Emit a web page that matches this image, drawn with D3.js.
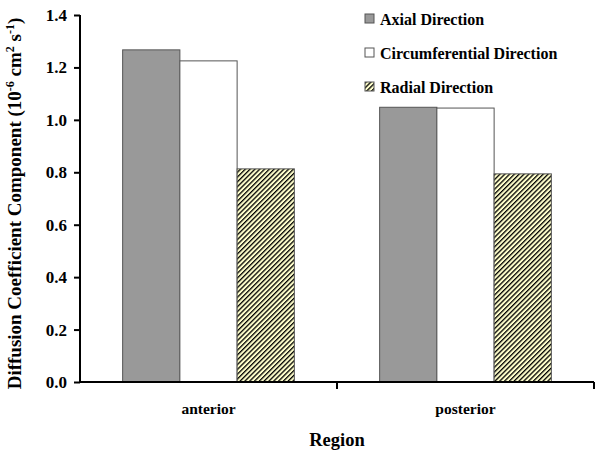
<!DOCTYPE html>
<html><head><meta charset="utf-8">
<script src="https://cdn.jsdelivr.net/npm/d3@7"></script>
<style>body{margin:0;background:#fff}svg{display:block}text{font-family:"Liberation Serif","Times New Roman",serif;font-weight:bold;fill:#000}</style>
</head><body><svg id="c" width="600" height="454"></svg>
<script>
const regions = ["anterior", "posterior"];
const series = ["Axial Direction", "Circumferential Direction", "Radial Direction"];
const axial = [1.267, 1.048];
const circumferential = [1.225, 1.045];
const radial = [0.813, 0.794];
const yTicks = [0, 0.2, 0.4, 0.6, 0.8, 1.0, 1.2, 1.4];

const values = [axial, circumferential, radial];
const fills = ["#999999", "#ffffff", "url(#hatch)"];

const svg = d3.select("#c");
const defs = svg.append("defs");
const pat = defs.append("pattern").attr("id","hatch").attr("patternUnits","userSpaceOnUse")
  .attr("width",3.4).attr("height",3.4).attr("patternTransform","rotate(45)");
pat.append("rect").attr("width",3.4).attr("height",3.4).attr("fill","#ffffcc");
pat.append("rect").attr("x",0).attr("width",1.3).attr("height",3.4).attr("fill","#000");

const L = 80, R = 594, T = 15, B = 382;
const x0 = d3.scaleBand().domain(regions).range([L, R]).paddingInner(0).paddingOuter(0);
const x1 = d3.scaleBand().domain(series).range([0, x0.bandwidth()]).paddingOuter(0.745).paddingInner(0);
const y = d3.scaleLinear().domain([0, 1.4]).range([B, T]);

// bars
regions.forEach((r, i) => {
  series.forEach((s, j) => {
    svg.append("rect")
      .attr("x", x0(r) + x1(s)).attr("y", y(values[j][i]))
      .attr("width", x1.bandwidth()).attr("height", B - y(values[j][i]))
      .attr("fill", fills[j]).attr("stroke", "#555").attr("stroke-width", 1);
  });
});

// y axis
const yAxis = svg.append("g").attr("transform", `translate(${L},0)`)
  .call(d3.axisLeft(y).tickValues(yTicks).tickFormat(d3.format(".1f")).tickSize(6).tickPadding(7));
yAxis.select(".domain").attr("stroke","#000").attr("stroke-width",2).attr("d",`M0,${T}V${B}`);
yAxis.selectAll(".tick line").attr("stroke","#000").attr("stroke-width",2);
yAxis.selectAll(".tick text").style("font-size","17px").style("font-family","Liberation Serif").style("font-weight","bold");

// x axis
const xAxis = svg.append("g").attr("transform", `translate(0,${B})`);
xAxis.append("line").attr("x1", L).attr("x2", R).attr("y1",0).attr("y2",0).attr("stroke","#000").attr("stroke-width",2);
regions.forEach(r => {
  xAxis.append("line").attr("x1", x0(r)+x0.bandwidth()).attr("x2", x0(r)+x0.bandwidth())
    .attr("y1",0).attr("y2",7).attr("stroke","#000").attr("stroke-width",2);
  xAxis.append("text").attr("x", x0(r)+x0.bandwidth()/2).attr("y", 32)
    .attr("text-anchor","middle").style("font-size","15.5px").text(r);
});

svg.append("text").attr("x", (L+R)/2).attr("y", 446).attr("text-anchor","middle")
  .style("font-size","18.5px").text("Region");

// y label
const yl = svg.append("text").attr("transform", `translate(21,${(T+B)/2+5}) rotate(-90)`)
  .attr("text-anchor","middle").style("font-size","19px");
yl.append("tspan").text("Diffusion Coefficient Component (10");
yl.append("tspan").attr("dy",-7).style("font-size","12px").text("-6");
yl.append("tspan").attr("dy",7).text(" cm");
yl.append("tspan").attr("dy",-7).style("font-size","12px").text("2");
yl.append("tspan").attr("dy",7).text(" s");
yl.append("tspan").attr("dy",-7).style("font-size","12px").text("-1");
yl.append("tspan").attr("dy",7).text(")");

// legend
const lg = svg.append("g");
series.forEach((s, j) => {
  const yy = 19 + j*34;
  lg.append("rect").attr("x",365).attr("y",yy-5).attr("width",9).attr("height",9)
    .attr("fill",fills[j]).attr("stroke","#555").attr("stroke-width",1);
  lg.append("text").attr("x",380).attr("y",yy+5.5).style("font-size","16px").text(s);
});
</script></body></html>
